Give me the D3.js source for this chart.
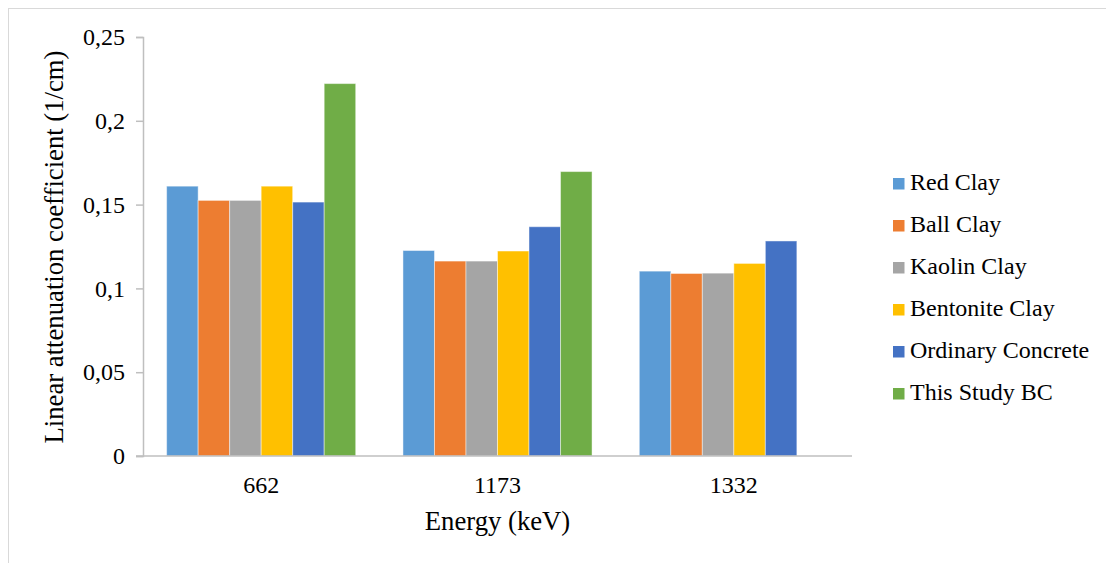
<!DOCTYPE html>
<html>
<head>
<meta charset="utf-8">
<script src="https://cdn.jsdelivr.net/npm/d3@7"></script>
<style>
  html, body { margin: 0; padding: 0; background: #fff; }
  svg { display: block; }
</style>
</head>
<body>
<svg id="chart" width="1106" height="563"></svg>
<script>
// Energies (keV) on the category axis
const categories = ["662", "1173", "1332"];
// Material series
const seriesNames = ["Red Clay", "Ball Clay", "Kaolin Clay", "Bentonite Clay", "Ordinary Concrete", "This Study BC"];
const seriesColors = ["#5b9bd5", "#ed7d31", "#a5a5a5", "#ffc000", "#4472c4", "#70ad47"];
// Linear attenuation coefficients (1/cm), one array per material, in category order
const redClay = [0.161, 0.1226, 0.1103];
const ballClay = [0.1525, 0.1163, 0.1089];
const kaolinClay = [0.1525, 0.1163, 0.1091];
const bentoniteClay = [0.161, 0.1223, 0.1149];
const ordinaryConcrete = [0.1515, 0.1368, 0.1283];
const thisStudyBC = [0.2222, 0.1697, null];
const yTicks = [0, 0.05, 0.1, 0.15, 0.2, 0.25];

const seriesValues = [redClay, ballClay, kaolinClay, bentoniteClay, ordinaryConcrete, thisStudyBC];

const FONT = "Liberation Serif";
const LABEL_SIZE = "24px";
const TITLE_SIZE = "26.7px";
const svg = d3.select("#chart");

// Outer chart frame
svg.append("rect")
  .attr("x", 8.5).attr("y", 8.5)
  .attr("width", 1110).attr("height", 570)
  .attr("fill", "none").attr("stroke", "#d9d9d9").attr("stroke-width", 1);

const plot = { left: 143, right: 852, top: 37, bottom: 456 };

const x0 = d3.scaleBand()
  .domain(categories)
  .range([plot.left, plot.right])
  .paddingInner(0).paddingOuter(0);

const x1 = d3.scaleBand()
  .domain(seriesNames)
  .range([0, x0.bandwidth()])
  .paddingOuter(0.75)
  .paddingInner(0);

const y = d3.scaleLinear().domain([0, 0.25]).range([plot.bottom, plot.top]);

const fmt = d => String(d).replace(".", ",");

// Bars
const groups = svg.append("g").selectAll("g")
  .data(categories)
  .join("g")
  .attr("transform", c => `translate(${x0(c)},0)`);

groups.selectAll("rect")
  .data((c, ci) => seriesNames.map((s, si) => ({ s, si, v: seriesValues[si][ci] })).filter(d => d.v != null))
  .join("rect")
  .attr("x", d => x1(d.s))
  .attr("width", x1.bandwidth())
  .attr("y", d => y(d.v))
  .attr("height", d => y(0) - y(d.v))
  .attr("fill", d => seriesColors[d.si])
  .attr("stroke", "rgba(255,255,255,0.45)")
  .attr("stroke-width", 1);

// Y axis
const yAxis = svg.append("g")
  .attr("transform", `translate(${plot.left},0)`)
  .call(d3.axisLeft(y).tickValues(yTicks).tickFormat(fmt).tickSize(7).tickPadding(11))
  .attr("font-family", FONT);
yAxis.select(".domain").attr("stroke", "#bfbfbf").attr("stroke-width", 1.5);
yAxis.selectAll(".tick line").attr("stroke", "#bfbfbf").attr("stroke-width", 1.5);
yAxis.selectAll(".tick text")
  .style("font-family", FONT).style("font-size", LABEL_SIZE).attr("fill", "#000");

// X axis
const xAxis = svg.append("g")
  .attr("transform", `translate(0,${plot.bottom})`)
  .call(d3.axisBottom(x0).tickSize(0).tickPadding(0))
  .attr("font-family", FONT);
xAxis.select(".domain").remove();
svg.append("line")
  .attr("x1", plot.left - 7).attr("x2", plot.right)
  .attr("y1", plot.bottom).attr("y2", plot.bottom)
  .attr("stroke", "#bfbfbf").attr("stroke-width", 1.5);
xAxis.selectAll(".tick text")
  .attr("y", 37).attr("dy", null)
  .style("font-family", FONT).style("font-size", LABEL_SIZE).attr("fill", "#000");

// Axis titles
svg.append("text")
  .attr("x", (plot.left + plot.right) / 2).attr("y", 530)
  .attr("text-anchor", "middle").attr("fill", "#000")
  .style("font-family", FONT).style("font-size", TITLE_SIZE)
  .text("Energy (keV)");

svg.append("text")
  .attr("transform", `translate(63,247) rotate(-90)`)
  .attr("text-anchor", "middle").attr("fill", "#000")
  .style("font-family", FONT).style("font-size", TITLE_SIZE)
  .text("Linear attenuation coefficient (1/cm)");

// Legend
const legend = svg.append("g").attr("transform", "translate(893,183.5)");
const rows = legend.selectAll("g")
  .data(seriesNames)
  .join("g")
  .attr("transform", (d, i) => `translate(0,${i * 42})`);
rows.append("rect")
  .attr("x", 0).attr("y", -5.5).attr("width", 11.5).attr("height", 11.5)
  .attr("fill", (d, i) => seriesColors[i]);
rows.append("text")
  .attr("x", 17).attr("y", 6)
  .attr("fill", "#000")
  .style("font-family", FONT).style("font-size", LABEL_SIZE)
  .text(d => d);
</script>
</body>
</html>
